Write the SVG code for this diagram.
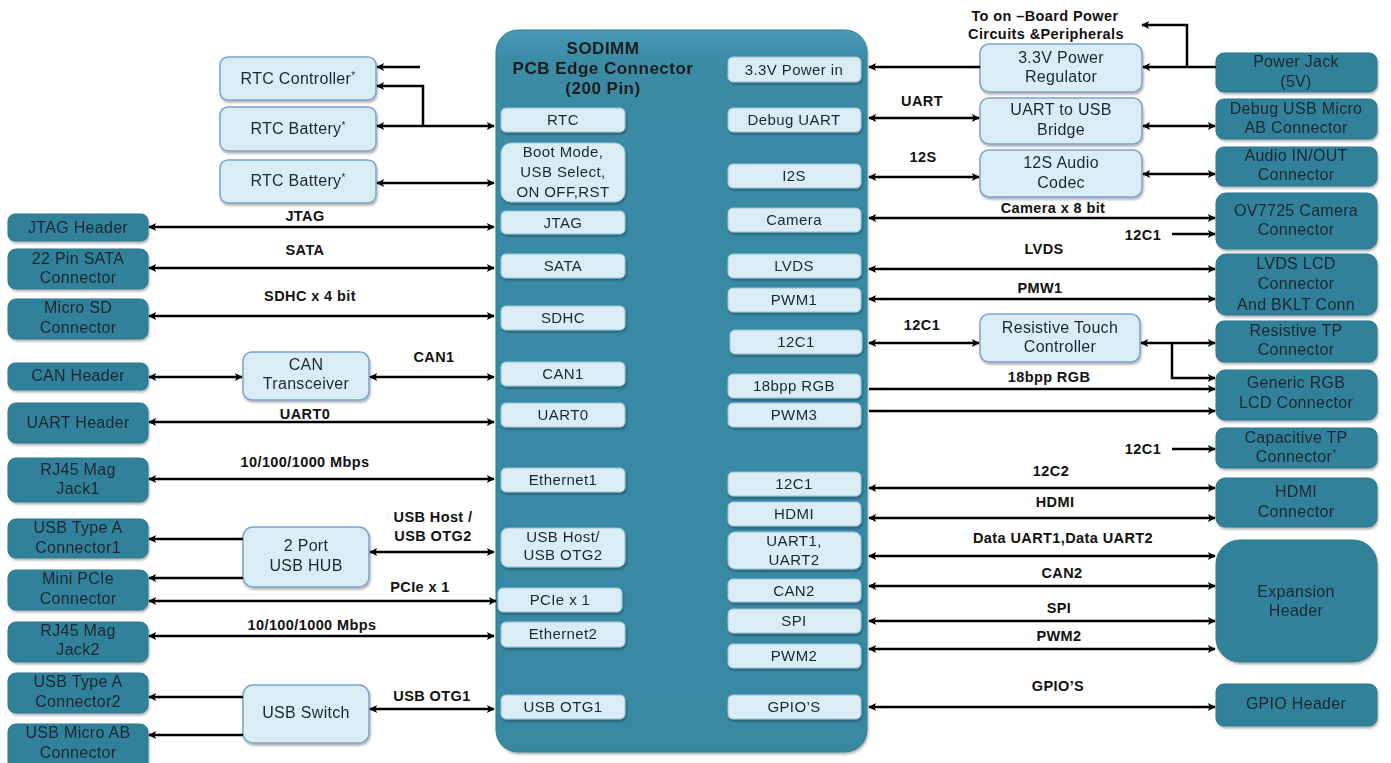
<svg xmlns="http://www.w3.org/2000/svg" width="1391" height="763" viewBox="0 0 1391 763">
<style>
.dk{fill:#31819b;stroke:#2a7690;stroke-width:1}
.lt{fill:#dbedf4;stroke:#7ba3cf;stroke-width:1.5}
.in{fill:#dbedf4;stroke:#9cc3da;stroke-width:1}
.t{font-family:"Liberation Sans",Arial,sans-serif;font-size:16px;letter-spacing:0.3px;fill:#1b2830;text-anchor:middle}
.ti{font-family:"Liberation Sans",Arial,sans-serif;font-size:15px;letter-spacing:0.4px;fill:#1b2830;text-anchor:middle}
.lb{font-family:"Liberation Sans",Arial,sans-serif;font-size:14.5px;letter-spacing:0.4px;font-weight:bold;fill:#111;text-anchor:middle}
.hd{font-family:"Liberation Sans",Arial,sans-serif;font-size:17px;letter-spacing:0.5px;font-weight:bold;fill:#1a1a1a;text-anchor:middle}
.c{fill:none;stroke:#000;stroke-width:2.5}
.b{marker-start:url(#ah);marker-end:url(#ah)}
.e{marker-end:url(#ah)}
.sup{font-size:10px}
</style>
<defs>
<marker id="ah" viewBox="0 0 10 10" refX="9" refY="5" markerWidth="9" markerHeight="8" markerUnits="userSpaceOnUse" orient="auto-start-reverse"><path d="M0,0 L10,5 L0,10 L2.5,5 z" fill="#000"/></marker>
<filter id="sh" x="-10%" y="-10%" width="130%" height="140%"><feDropShadow dx="1" dy="2" stdDeviation="1.3" flood-color="#000" flood-opacity="0.3"/></filter>
<linearGradient id="mg" x1="0" y1="0" x2="0" y2="1"><stop offset="0" stop-color="#4a9cb6"/><stop offset="0.04" stop-color="#3a8ba5"/><stop offset="1" stop-color="#3788a2"/></linearGradient>
</defs>
<rect width="1391" height="763" fill="#fff"/>

<g id="sodimm" filter="url(#sh)">
<rect x="496" y="30" width="371" height="722" rx="22" fill="url(#mg)" stroke="#2f7d96" stroke-width="1"/>
<text class="hd" x="603" y="54">SODIMM</text>
<text class="hd" x="603" y="74">PCB Edge Connector</text>
<text class="hd" x="603" y="94">(200 Pin)</text>
</g>

<g id="pins-left" filter="url(#sh)">
<rect class="in" x="501" y="108" width="124" height="24" rx="5"/><text class="ti" x="563" y="125">RTC</text>
<rect class="in" x="501" y="143" width="124" height="59" rx="10"/><text class="ti" x="563" y="157">Boot Mode,</text><text class="ti" x="563" y="177">USB Select,</text><text class="ti" x="563" y="197">ON OFF,RST</text>
<rect class="in" x="501" y="211" width="124" height="23" rx="5"/><text class="ti" x="563" y="228">JTAG</text>
<rect class="in" x="501" y="254" width="124" height="24" rx="5"/><text class="ti" x="563" y="271">SATA</text>
<rect class="in" x="501" y="306" width="124" height="24" rx="5"/><text class="ti" x="563" y="323">SDHC</text>
<rect class="in" x="501" y="362" width="124" height="24" rx="5"/><text class="ti" x="563" y="379">CAN1</text>
<rect class="in" x="501" y="403" width="124" height="24" rx="5"/><text class="ti" x="563" y="420">UART0</text>
<rect class="in" x="501" y="468" width="124" height="24" rx="5"/><text class="ti" x="563" y="485">Ethernet1</text>
<rect class="in" x="501" y="528" width="124" height="39" rx="7"/><text class="ti" x="563" y="542">USB Host/</text><text class="ti" x="563" y="560">USB OTG2</text>
<rect class="in" x="498" y="588" width="124" height="24" rx="5"/><text class="ti" x="560" y="605">PCIe x 1</text>
<rect class="in" x="501" y="622" width="124" height="25" rx="5"/><text class="ti" x="563" y="639">Ethernet2</text>
<rect class="in" x="501" y="695" width="124" height="24" rx="5"/><text class="ti" x="563" y="712">USB OTG1</text>
</g>

<g id="pins-right" filter="url(#sh)">
<rect class="in" x="728" y="57" width="133" height="25" rx="5"/><text class="ti" x="794" y="75">3.3V Power in</text>
<rect class="in" x="728" y="108" width="133" height="24" rx="5"/><text class="ti" x="794" y="125">Debug UART</text>
<rect class="in" x="728" y="164" width="133" height="24" rx="5"/><text class="ti" x="794" y="181">I2S</text>
<rect class="in" x="728" y="208" width="133" height="24" rx="5"/><text class="ti" x="794" y="225">Camera</text>
<rect class="in" x="728" y="254" width="133" height="24" rx="5"/><text class="ti" x="794" y="271">LVDS</text>
<rect class="in" x="728" y="288" width="133" height="24" rx="5"/><text class="ti" x="794" y="305">PWM1</text>
<rect class="in" x="730" y="330" width="132" height="24" rx="5"/><text class="ti" x="796" y="347">12C1</text>
<rect class="in" x="728" y="374" width="133" height="24" rx="5"/><text class="ti" x="794" y="391">18bpp RGB</text>
<rect class="in" x="728" y="403" width="133" height="24" rx="5"/><text class="ti" x="794" y="420">PWM3</text>
<rect class="in" x="728" y="472" width="133" height="24" rx="5"/><text class="ti" x="794" y="489">12C1</text>
<rect class="in" x="728" y="502" width="133" height="24" rx="5"/><text class="ti" x="794" y="519">HDMI</text>
<rect class="in" x="728" y="532" width="133" height="37" rx="7"/><text class="ti" x="794" y="546">UART1,</text><text class="ti" x="794" y="565">UART2</text>
<rect class="in" x="728" y="579" width="133" height="23" rx="5"/><text class="ti" x="794" y="596">CAN2</text>
<rect class="in" x="728" y="609" width="133" height="24" rx="5"/><text class="ti" x="794" y="626">SPI</text>
<rect class="in" x="728" y="644" width="133" height="24" rx="5"/><text class="ti" x="794" y="661">PWM2</text>
<rect class="in" x="728" y="695" width="133" height="24" rx="5"/><text class="ti" x="794" y="712">GPIO’S</text>
</g>

<g id="rtc-controller" filter="url(#sh)"><rect class="lt" x="220" y="57" width="156" height="43" rx="8"/><text class="t" x="298" y="84">RTC Controller<tspan class="sup" dy="-5">*</tspan></text></g>
<g id="rtc-battery-1" filter="url(#sh)"><rect class="lt" x="220" y="107" width="156" height="44" rx="8"/><text class="t" x="298" y="134">RTC Battery<tspan class="sup" dy="-5">*</tspan></text></g>
<g id="rtc-battery-2" filter="url(#sh)"><rect class="lt" x="220" y="160" width="156" height="43" rx="8"/><text class="t" x="298" y="186">RTC Battery<tspan class="sup" dy="-5">*</tspan></text></g>
<g id="can-transceiver" filter="url(#sh)"><rect class="lt" x="243" y="352" width="126" height="48" rx="9"/><text class="t" x="306" y="370">CAN</text><text class="t" x="306" y="389">Transceiver</text></g>
<g id="usb-hub" filter="url(#sh)"><rect class="lt" x="243" y="527" width="126" height="60" rx="10"/><text class="t" x="306" y="551">2 Port</text><text class="t" x="306" y="571">USB HUB</text></g>
<g id="usb-switch" filter="url(#sh)"><rect class="lt" x="243" y="685" width="126" height="58" rx="10"/><text class="t" x="306" y="718">USB Switch</text></g>
<g id="power-regulator" filter="url(#sh)"><rect class="lt" x="980" y="44" width="162" height="48" rx="9"/><text class="t" x="1061" y="63">3.3V Power</text><text class="t" x="1061" y="82">Regulator</text></g>
<g id="uart-usb-bridge" filter="url(#sh)"><rect class="lt" x="980" y="98" width="162" height="46" rx="9"/><text class="t" x="1061" y="115">UART to USB</text><text class="t" x="1061" y="135">Bridge</text></g>
<g id="audio-codec" filter="url(#sh)"><rect class="lt" x="980" y="150" width="162" height="47" rx="9"/><text class="t" x="1061" y="168">12S Audio</text><text class="t" x="1061" y="188">Codec</text></g>
<g id="touch-controller" filter="url(#sh)"><rect class="lt" x="980" y="314" width="160" height="48" rx="9"/><text class="t" x="1060" y="333">Resistive Touch</text><text class="t" x="1060" y="352">Controller</text></g>

<g id="jtag-header" filter="url(#sh)"><rect class="dk" x="8" y="214" width="140" height="27" rx="7"/><text class="t" x="78" y="233">JTAG Header</text></g>
<g id="sata-connector" filter="url(#sh)"><rect class="dk" x="8" y="249" width="140" height="40" rx="8"/><text class="t" x="78" y="264">22 Pin SATA</text><text class="t" x="78" y="283">Connector</text></g>
<g id="microsd-connector" filter="url(#sh)"><rect class="dk" x="8" y="299" width="140" height="40" rx="8"/><text class="t" x="78" y="313">Micro SD</text><text class="t" x="78" y="333">Connector</text></g>
<g id="can-header" filter="url(#sh)"><rect class="dk" x="8" y="363" width="140" height="27" rx="7"/><text class="t" x="78" y="381">CAN Header</text></g>
<g id="uart-header" filter="url(#sh)"><rect class="dk" x="8" y="403" width="140" height="40" rx="8"/><text class="t" x="78" y="428">UART Header</text></g>
<g id="rj45-jack1" filter="url(#sh)"><rect class="dk" x="8" y="458" width="140" height="44" rx="8"/><text class="t" x="78" y="475">RJ45 Mag</text><text class="t" x="78" y="494">Jack1</text></g>
<g id="usb-typea-1" filter="url(#sh)"><rect class="dk" x="8" y="519" width="140" height="39" rx="8"/><text class="t" x="78" y="533">USB Type A</text><text class="t" x="78" y="553">Connector1</text></g>
<g id="mini-pcie" filter="url(#sh)"><rect class="dk" x="8" y="570" width="140" height="40" rx="8"/><text class="t" x="78" y="584">Mini PCIe</text><text class="t" x="78" y="604">Connector</text></g>
<g id="rj45-jack2" filter="url(#sh)"><rect class="dk" x="8" y="622" width="140" height="40" rx="8"/><text class="t" x="78" y="636">RJ45 Mag</text><text class="t" x="78" y="655">Jack2</text></g>
<g id="usb-typea-2" filter="url(#sh)"><rect class="dk" x="8" y="673" width="140" height="40" rx="8"/><text class="t" x="78" y="687">USB Type A</text><text class="t" x="78" y="707">Connector2</text></g>
<g id="usb-micro-ab" filter="url(#sh)"><rect class="dk" x="8" y="724" width="140" height="46" rx="8"/><text class="t" x="78" y="738">USB Micro AB</text><text class="t" x="78" y="758">Connector</text></g>

<g id="power-jack" filter="url(#sh)"><rect class="dk" x="1216" y="53" width="161" height="39" rx="8"/><text class="t" x="1296" y="67">Power Jack</text><text class="t" x="1296" y="87">(5V)</text></g>
<g id="debug-usb" filter="url(#sh)"><rect class="dk" x="1216" y="99" width="161" height="40" rx="8"/><text class="t" x="1296" y="114">Debug USB Micro</text><text class="t" x="1296" y="133">AB Connector</text></g>
<g id="audio-connector" filter="url(#sh)"><rect class="dk" x="1216" y="147" width="161" height="39" rx="8"/><text class="t" x="1296" y="161">Audio IN/OUT</text><text class="t" x="1296" y="180">Connector</text></g>
<g id="camera-connector" filter="url(#sh)"><rect class="dk" x="1216" y="193" width="161" height="56" rx="10"/><text class="t" x="1296" y="216">OV7725 Camera</text><text class="t" x="1296" y="235">Connector</text></g>
<g id="lvds-connector" filter="url(#sh)"><rect class="dk" x="1216" y="254" width="161" height="61" rx="10"/><text class="t" x="1296" y="269">LVDS LCD</text><text class="t" x="1296" y="289">Connector</text><text class="t" x="1296" y="310">And BKLT Conn</text></g>
<g id="resistive-tp" filter="url(#sh)"><rect class="dk" x="1216" y="321" width="161" height="41" rx="8"/><text class="t" x="1296" y="336">Resistive TP</text><text class="t" x="1296" y="355">Connector</text></g>
<g id="rgb-connector" filter="url(#sh)"><rect class="dk" x="1216" y="370" width="161" height="50" rx="9"/><text class="t" x="1296" y="388">Generic RGB</text><text class="t" x="1296" y="408">LCD Connector</text></g>
<g id="capacitive-tp" filter="url(#sh)"><rect class="dk" x="1216" y="428" width="161" height="40" rx="8"/><text class="t" x="1296" y="443">Capacitive TP</text><text class="t" x="1296" y="462">Connector<tspan class="sup" dy="-5">*</tspan></text></g>
<g id="hdmi-connector" filter="url(#sh)"><rect class="dk" x="1216" y="478" width="161" height="49" rx="9"/><text class="t" x="1296" y="497">HDMI</text><text class="t" x="1296" y="517">Connector</text></g>
<g id="expansion-header" filter="url(#sh)"><rect class="dk" x="1216" y="540" width="161" height="122" rx="24"/><text class="t" x="1296" y="597">Expansion</text><text class="t" x="1296" y="616">Header</text></g>
<g id="gpio-header" filter="url(#sh)"><rect class="dk" x="1216" y="684" width="161" height="42" rx="8"/><text class="t" x="1296" y="709">GPIO Header</text></g>

<g id="connectors">
<path class="c e" d="M420,67 H377"/>
<path class="c e" d="M423,126 V86 H377"/>
<path class="c b" d="M377,126 H494"/>
<path class="c b" d="M377,183 H494"/>
<path class="c b" d="M149,227 H494"/>
<path class="c b" d="M149,268 H494"/>
<path class="c b" d="M149,316 H494"/>
<path class="c b" d="M149,377 H242"/>
<path class="c b" d="M370,377 H494"/>
<path class="c b" d="M149,422 H494"/>
<path class="c b" d="M149,479 H494"/>
<path class="c e" d="M243,539 H149"/>
<path class="c e" d="M243,578 H149"/>
<path class="c b" d="M370,552 H494"/>
<path class="c b" d="M149,601 H496"/>
<path class="c b" d="M149,636 H494"/>
<path class="c e" d="M243,697 H149"/>
<path class="c e" d="M243,735 H149"/>
<path class="c b" d="M370,709 H494"/>

<path class="c e" d="M980,67 H869"/>
<path class="c e" d="M1216,67 H1143"/>
<path class="c e" d="M1187,67 V25 H1142"/>
<path class="c b" d="M869,118 H979"/>
<path class="c b" d="M1143,126 H1215"/>
<path class="c b" d="M869,177 H979"/>
<path class="c b" d="M1143,174 H1215"/>
<path class="c b" d="M869,218 H1215"/>
<path class="c e" d="M1172,234 H1215"/>
<path class="c b" d="M869,269 H1215"/>
<path class="c b" d="M869,299 H1215"/>
<path class="c b" d="M869,343 H979"/>
<path class="c b" d="M1141,343 H1215"/>
<path class="c e" d="M1172,343 V378 H1215"/>
<path class="c e" d="M869,389 H1215"/>
<path class="c e" d="M869,411 H1215"/>
<path class="c e" d="M1172,449 H1215"/>
<path class="c b" d="M869,488 H1215"/>
<path class="c b" d="M869,518 H1215"/>
<path class="c b" d="M869,556 H1215"/>
<path class="c b" d="M869,586 H1215"/>
<path class="c b" d="M869,621 H1215"/>
<path class="c b" d="M869,649 H1215"/>
<path class="c b" d="M869,707 H1215"/>
</g>

<g id="labels">
<text class="lb" x="305" y="221">JTAG</text>
<text class="lb" x="305" y="255">SATA</text>
<text class="lb" x="310" y="301">SDHC x 4 bit</text>
<text class="lb" x="434" y="362">CAN1</text>
<text class="lb" x="305" y="419">UART0</text>
<text class="lb" x="305" y="467">10/100/1000 Mbps</text>
<text class="lb" x="433" y="522">USB Host /</text>
<text class="lb" x="433" y="541">USB OTG2</text>
<text class="lb" x="420" y="592">PCIe x 1</text>
<text class="lb" x="312" y="630">10/100/1000 Mbps</text>
<text class="lb" x="432" y="701">USB OTG1</text>
<text class="lb" x="1045" y="21">To on –Board Power</text>
<text class="lb" x="1046" y="39">Circuits &amp;Peripherals</text>
<text class="lb" x="922" y="106">UART</text>
<text class="lb" x="923" y="162">12S</text>
<text class="lb" x="1053" y="213">Camera x 8 bit</text>
<text class="lb" x="1143" y="240">12C1</text>
<text class="lb" x="1044" y="254">LVDS</text>
<text class="lb" x="1040" y="293">PMW1</text>
<text class="lb" x="922" y="330">12C1</text>
<text class="lb" x="1049" y="382">18bpp RGB</text>
<text class="lb" x="1143" y="454">12C1</text>
<text class="lb" x="1051" y="476">12C2</text>
<text class="lb" x="1055" y="507">HDMI</text>
<text class="lb" x="1063" y="543">Data UART1,Data UART2</text>
<text class="lb" x="1062" y="578">CAN2</text>
<text class="lb" x="1059" y="613">SPI</text>
<text class="lb" x="1059" y="641">PWM2</text>
<text class="lb" x="1058" y="691">GPIO’S</text>
</g>
</svg>
